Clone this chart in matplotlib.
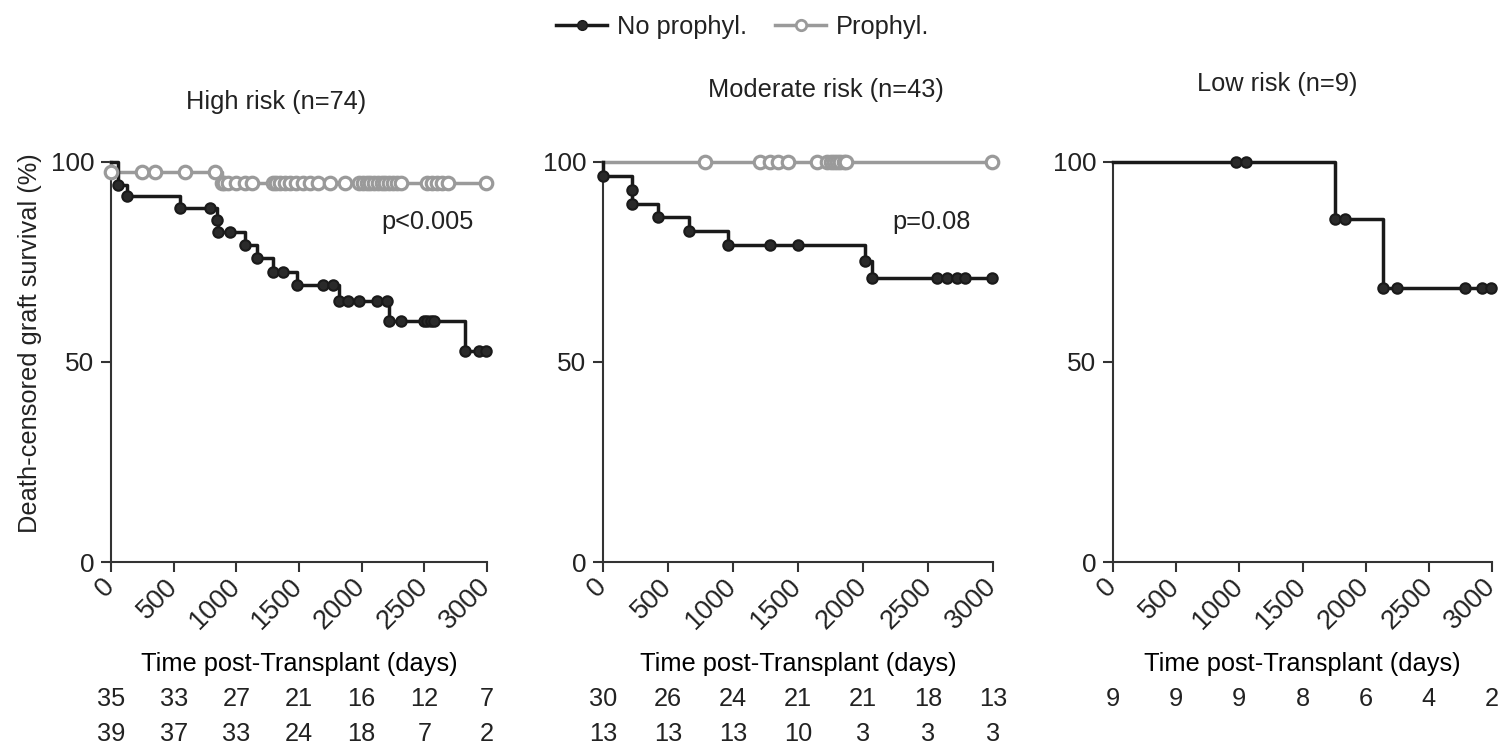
import numpy as np
import matplotlib
matplotlib.use("Agg")
import matplotlib.pyplot as plt
from matplotlib.lines import Line2D

plt.rcParams['font.family'] = ['Liberation Sans', 'DejaVu Sans']
plt.rcParams['font.size'] = 18.3
plt.rcParams['text.color'] = '#222222'

# --- data ---
titles = ['High risk (n=74)', 'Moderate risk (n=43)', 'Low risk (n=9)']
pvals = ['p<0.005', 'p=0.08', None]
xticks = [0, 500, 1000, 1500, 2000, 2500, 3000]

# High risk, no prophylaxis
high_np_event_t = [55, 127, 550, 843, 850, 1066, 1162, 1290, 1488, 1823, 2220, 2825]
high_np_event_s = [94.3, 91.4, 88.5, 85.5, 82.5, 79.2, 76.0, 72.6, 69.2, 65.3, 60.3, 52.8]
high_np_cens_t = [790, 947, 1370, 1690, 1770, 1888, 1980, 2125, 2205, 2313,
                  2500, 2525, 2550, 2575, 2936, 2995]
# High risk, prophylaxis
high_p_event_t = [0, 883]
high_p_event_s = [97.4, 94.7]
high_p_cens_t = [245, 350, 590, 827, 900, 930, 1000, 1066, 1122, 1290, 1320, 1350,
                 1385, 1425, 1480, 1530, 1585, 1650, 1745, 1865, 1980, 2010, 2040,
                 2070, 2100, 2130, 2160, 2190, 2220, 2250, 2280, 2310, 2520, 2560,
                 2600, 2640, 2690, 2995]

# Moderate risk, no prophylaxis
mod_np_event_t = [0, 223, 226, 423, 662, 962, 2015, 2070]
mod_np_event_s = [96.6, 93.1, 89.6, 86.2, 82.7, 79.3, 75.2, 71.0]
mod_np_cens_t = [1285, 1500, 2570, 2646, 2723, 2785, 2995]
# Moderate risk, prophylaxis
mod_p_event_t = []
mod_p_event_s = []
mod_p_cens_t = [785, 1208, 1285, 1349, 1426, 1644, 1725, 1750, 1775, 1800, 1825,
                1850, 1872, 2995]

# Low risk, no prophylaxis
low_np_event_t = [1760, 2140]
low_np_event_s = [85.7, 68.6]
low_np_cens_t = [971, 1050, 1836, 2250, 2786, 2920, 2995]

# numbers at risk
risk_high = [[35, 33, 27, 21, 16, 12, 7], [39, 37, 33, 24, 18, 7, 2]]
risk_mod = [[30, 26, 24, 21, 21, 18, 13], [13, 13, 13, 10, 3, 3, 3]]
risk_low = [[9, 9, 9, 8, 6, 4, 2]]

black = '#1a1a1a'
gray = '#9a9a9a'


def surv_at(t, ev_t, ev_s):
    s = 100.0
    for et, es in zip(ev_t, ev_s):
        if et <= t:
            s = es
    return s


def km(ax, ev_t, ev_s, cens_t, color, filled):
    end = max(cens_t + ev_t)
    ts = [0] + ev_t + [end]
    ss = [100] + ev_s + [ev_s[-1] if ev_s else 100]
    ax.step(ts, ss, where='post', color=color, lw=2.5, zorder=3, clip_on=False)
    pts_t = ev_t + cens_t
    pts_s = ev_s + [surv_at(t, ev_t, ev_s) for t in cens_t]
    if filled:
        ax.plot(pts_t, pts_s, 'o', ms=7.5, mfc='#2a2a2a', mec=black, mew=1.5,
                zorder=4, clip_on=False, ls='none')
    else:
        ax.plot(pts_t, pts_s, 'o', ms=9, mfc='white', mec=color, mew=2.3,
                zorder=4, clip_on=False, ls='none')


fig = plt.figure(figsize=(15.01, 7.46), dpi=100)
W, H = 1501, 746
lefts = [111, 603, 1113]
rights = [487, 993, 1492]
bottom_px, top_px = 562, 162
axes = []
for l, r in zip(lefts, rights):
    ax = fig.add_axes([l / W, 1 - bottom_px / H, (r - l) / W, (bottom_px - top_px) / H])
    axes.append(ax)

km(axes[0], high_p_event_t, high_p_event_s, high_p_cens_t, gray, False)
km(axes[0], high_np_event_t, high_np_event_s, high_np_cens_t, black, True)
km(axes[1], mod_p_event_t, mod_p_event_s, mod_p_cens_t, gray, False)
km(axes[1], mod_np_event_t, mod_np_event_s, mod_np_cens_t, black, True)
km(axes[2], low_np_event_t, low_np_event_s, low_np_cens_t, black, True)

title_pos = [(0.439, 1.15), (0.572, 1.18), (0.433, 1.195)]
risks = [risk_high, risk_mod, risk_low]
row_y = [-0.343, -0.43]

for i, ax in enumerate(axes):
    ax.set_xlim(0, 3000)
    ax.set_ylim(0, 100)
    for sp in ['top', 'right']:
        ax.spines[sp].set_visible(False)
    for sp in ['left', 'bottom']:
        ax.spines[sp].set_color('#333333')
        ax.spines[sp].set_linewidth(1.5)
    ax.set_yticks([0, 50, 100])
    ax.set_xticks(xticks)
    ax.set_xticklabels([str(x) for x in xticks], rotation=45, ha='right',
                       va='center', rotation_mode='anchor', fontsize=19.5)
    ax.tick_params(axis='both', direction='out', length=7, width=1.5,
                   color='#333333', labelcolor='#222222')
    ax.tick_params(axis='x', pad=8)
    ax.tick_params(axis='y', pad=5, labelsize=18.8)
    ax.set_xlabel('Time post-Transplant (days)')
    ax.xaxis.set_label_coords(0.5, -0.255)
    ax.xaxis.label.set_va('center')
    tx, ty = title_pos[i]
    ax.text(tx, ty, titles[i], transform=ax.transAxes, ha='center', va='center')
    if pvals[i]:
        ax.text(2525, 85, pvals[i], ha='center', va='center')
    trans = matplotlib.transforms.blended_transform_factory(ax.transData, ax.transAxes)
    for row, yy in zip(risks[i], row_y):
        for x, n in zip(xticks, row):
            ax.text(x, yy, str(n), transform=trans, ha='center', va='center',
                    clip_on=False)

fig.text(0.02, 1 - 343 / H, 'Death-censored graft survival (%)', rotation=90,
         ha='center', va='center')

handles = [
    Line2D([], [], color=black, lw=2.5, marker='o', ms=7, mfc='#2a2a2a', mec=black),
    Line2D([], [], color=gray, lw=2.5, marker='o', ms=7.5, mfc='white', mec=gray, mew=2),
]
fig.legend(handles, ['No prophyl.', 'Prophyl.'], loc='center', ncol=2,
           bbox_to_anchor=(0.495, 1 - 27 / H), frameon=False, handlelength=2.0,
           handletextpad=0.4, columnspacing=1.1)

fig.savefig('out.png', dpi=100)
